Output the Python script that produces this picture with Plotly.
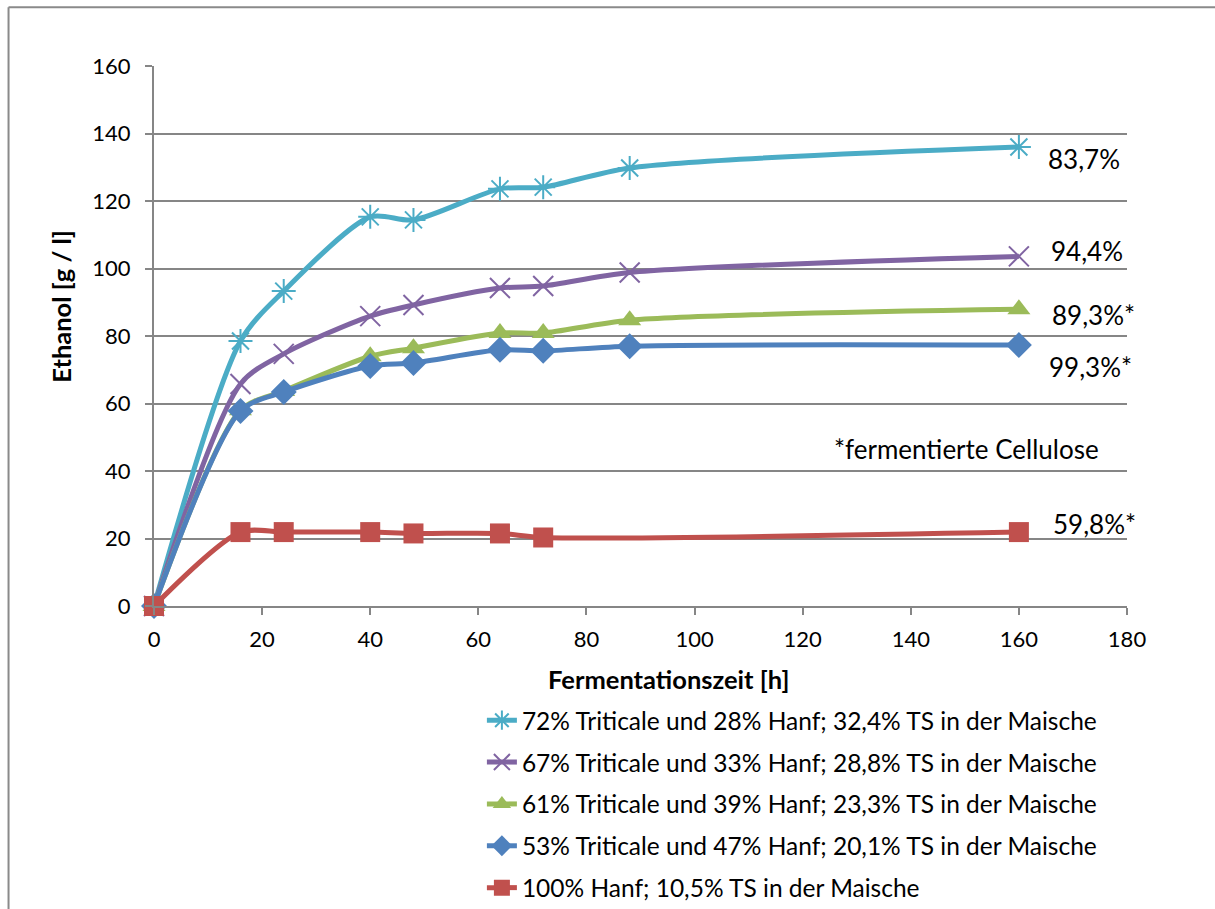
import plotly.graph_objects as go

# ---- data ----
hours_a = [0, 16, 24, 40, 48, 64, 72, 88, 160]
hours_red = [0, 16, 24, 40, 48, 64, 72, 160]

y_72 = [0, 78.5, 93.3, 115.3, 114.4, 123.6, 124.1, 129.8, 136.0]
y_67 = [0, 65.8, 74.7, 85.9, 89.2, 94.2, 94.8, 98.8, 103.6]
y_61 = [0, 58.0, 63.7, 74.0, 76.4, 80.9, 80.9, 84.7, 87.9]
y_53 = [0, 57.8, 63.4, 71.1, 72.0, 75.9, 75.6, 77.0, 77.3]
y_100 = [0, 21.9, 21.9, 21.9, 21.5, 21.5, 20.3, 21.9]

names = [
    "72% Triticale und 28% Hanf; 32,4% TS in der Maische",
    "67% Triticale und 33% Hanf; 28,8% TS in der Maische",
    "61% Triticale und 39% Hanf; 23,3% TS in der Maische",
    "53% Triticale und 47% Hanf; 20,1% TS in der Maische",
    "100% Hanf; 10,5% TS in der Maische",
]
end_labels = ["83,7%", "94,4%", "89,3%*", "99,3%*", "59,8%*"]
end_label_x = [165.0, 165.5, 165.7, 165.2, 165.9]
end_label_y = [132.4, 105.2, 86.2, 70.8, 24.3]
note_text = "*fermentierte Cellulose"
x_title = "<b>Fermentationszeit [h]</b>"
y_title = "<b>Ethanol [g / l]</b>"

x_ticks = [0, 20, 40, 60, 80, 100, 120, 140, 160, 180]
y_ticks = [0, 20, 40, 60, 80, 100, 120, 140, 160]

colors = ["#4BACC6", "#8064A2", "#9BBB59", "#4F81BD", "#C0504D"]
symbols = ["asterisk-open", "x-thin-open", "triangle-up", "diamond", "square"]
sizes = [20, 20, 20, 20, 20]

FONT = "Lato, 'Open Sans', sans-serif"

fig = go.Figure()
series = [(hours_a, y_72), (hours_a, y_67), (hours_a, y_61), (hours_a, y_53), (hours_red, y_100)]
for i, ((xs, ys), nm) in enumerate(zip(series, names)):
    marker = dict(symbol=symbols[i], size=sizes[i], color=colors[i])
    if symbols[i].endswith("open"):
        marker["line"] = dict(color=colors[i], width=2)
    fig.add_trace(go.Scatter(
        x=xs, y=ys, name=nm, mode="lines+markers", cliponaxis=False,
        line=dict(color=colors[i], width=5, shape="spline", smoothing=0.8),
        marker=marker, legendgroup=f"g{i}",
    ))

for lbl, xx, yy in zip(end_labels, end_label_x, end_label_y):
    fig.add_annotation(x=xx, y=yy, text=lbl, showarrow=False, xanchor="left",
                       yanchor="middle", font=dict(size=26, color="black", family=FONT))
fig.add_annotation(x=175.2, y=46.5, text=note_text, showarrow=False, xanchor="right",
                   yanchor="middle", font=dict(size=26, color="black", family=FONT))

# axis titles (placed as in the reference, slightly off-centre)
fig.add_annotation(xref="paper", yref="paper", x=0.529, y=-0.135, text=x_title,
                   showarrow=False, xanchor="center", yanchor="middle",
                   font=dict(size=25.5, color="black", family=FONT))
fig.add_annotation(xref="paper", yref="paper", x=-0.0956, y=0.556, text=y_title,
                   showarrow=False, xanchor="center", yanchor="middle", textangle=-90,
                   font=dict(size=25.5, color="black", family=FONT))

# outer chart border (left and top visible)
fig.add_shape(type="line", xref="paper", yref="paper", x0=-0.1495, x1=-0.1495, y0=-0.6, y1=1.109,
              line=dict(color="#8A8A8A", width=2))
fig.add_shape(type="line", xref="paper", yref="paper", x0=-0.1495, x1=1.2, y0=1.109, y1=1.109,
              line=dict(color="#8A8A8A", width=2))

fig.update_layout(
    width=1215, height=909,
    margin=dict(l=154, r=88, t=66, b=303, autoexpand=False),
    paper_bgcolor="white", plot_bgcolor="white",
    font=dict(family=FONT, size=22, color="black"),
    showlegend=True, hovermode=False,
    legend=dict(x=0.337, y=-0.170, xanchor="left", yanchor="top",
                font=dict(size=24.5, family=FONT), tracegroupgap=7,
                bgcolor="rgba(0,0,0,0)"),
    xaxis=dict(range=[0, 180], tickvals=x_ticks, showgrid=False, zeroline=False,
               showline=True, linecolor="#868686", linewidth=2,
               ticks="outside", ticklen=7, tickcolor="#868686", tickwidth=2,
               tickfont=dict(size=22), ticklabelstandoff=6),
    yaxis=dict(range=[0, 160], tickvals=y_ticks, showgrid=True, gridcolor="#868686", gridwidth=2,
               zeroline=False, showline=True, linecolor="#868686", linewidth=2,
               ticks="outside", ticklen=7, tickcolor="#868686", tickwidth=2,
               tickfont=dict(size=22), ticklabelstandoff=10),
)

fig.write_html("out.html", config={"displayModeBar": False},
               post_script="document.body.style.margin='0';document.body.style.overflow='hidden';")
